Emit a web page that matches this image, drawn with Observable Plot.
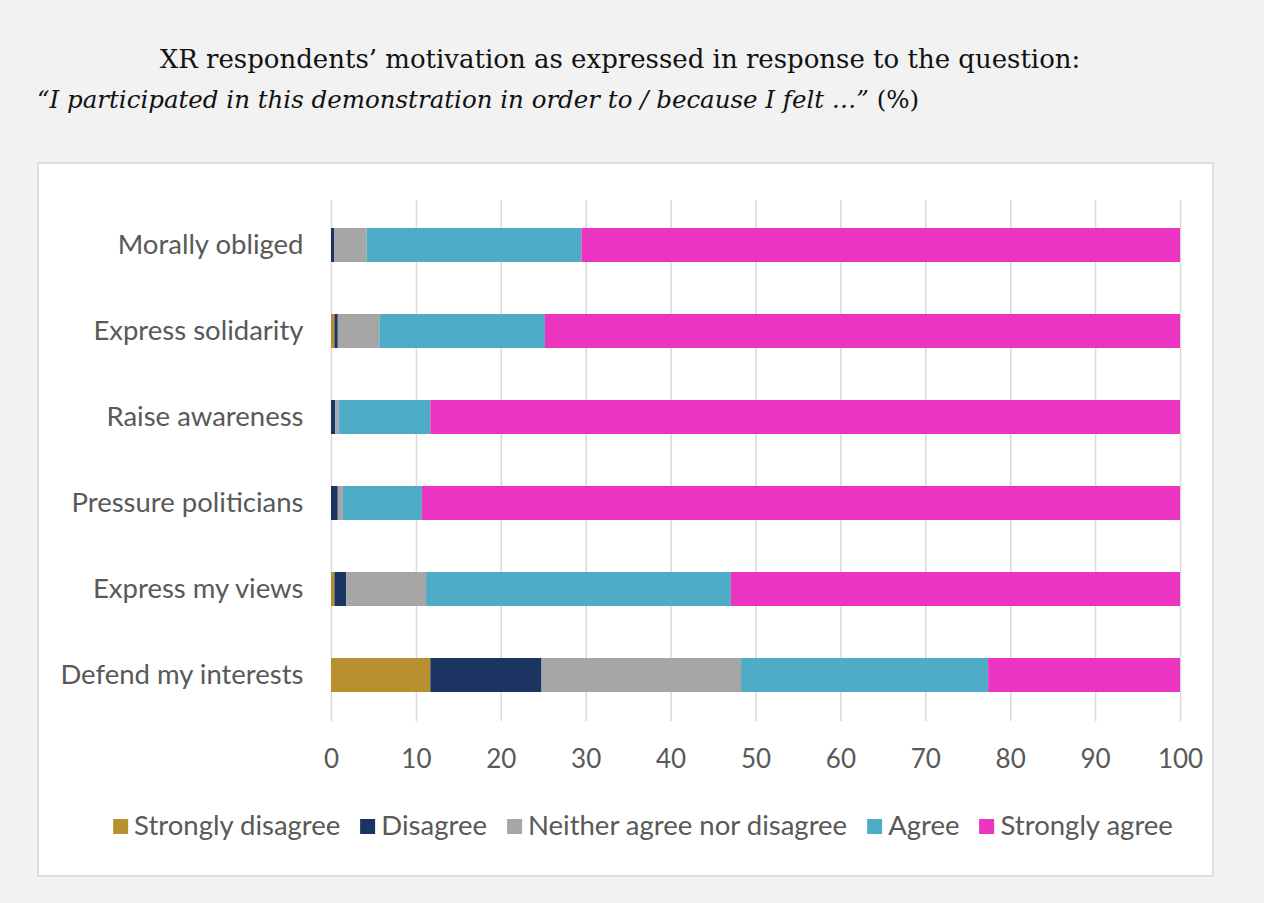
<!DOCTYPE html>
<html>
<head>
<meta charset="utf-8">
<script src="https://cdn.jsdelivr.net/npm/d3@7"></script>
<script src="https://cdn.jsdelivr.net/npm/@observablehq/plot@0.6"></script>
<style>
  html, body { margin: 0; padding: 0; }
  body { width: 1264px; height: 903px; background: #f2f2f2; position: relative; overflow: hidden; }
  #title { position: absolute; left: 0; width: 1240px; top: 44px; text-align: center;
    font-family: "DejaVu Serif", serif; font-size: 26px; color: #111; }
  #subtitle { position: absolute; left: 37px; top: 85px; font-family: "DejaVu Serif", serif; font-size: 24.5px; color: #111; }
  #panel { position: absolute; left: 37px; top: 162px; width: 1173px; height: 711px; background: #fff; border: 2px solid #dedede; }
  #chart { position: absolute; left: 38px; top: 163px; }
  #legend { position: absolute; top: 808px; left: 643px; transform: translateX(-50%); display: flex; gap: 20px;
    font-family: Lato, sans-serif; font-size: 27.5px; color: #595959; white-space: nowrap; }
  #legend .item { display: flex; align-items: center; gap: 6px; }
  #legend .sw { width: 15px; height: 15px; display: inline-block; margin-top: 3px; }
</style>
</head>
<body>
<div id="title">XR respondents’ motivation as expressed in response to the question:</div>
<div id="subtitle"><i>“I participated in this demonstration in order to / because I felt …”</i> (%)</div>
<div id="panel"></div>
<div id="chart"></div>
<div id="legend"></div>
<script>
const categories = ["Morally obliged", "Express solidarity", "Raise awareness", "Pressure politicians", "Express my views", "Defend my interests"];
const responses = ["Strongly disagree", "Disagree", "Neither agree nor disagree", "Agree", "Strongly agree"];
const colors = ["#b8902f", "#1c3461", "#a6a6a6", "#4eacc6", "#eb34c0"];
const stronglyDisagree = [0, 0.4, 0, 0, 0.4, 11.7];
const disagree = [0.4, 0.4, 0.5, 0.8, 1.4, 13.1];
const neither = [3.8, 4.9, 0.4, 0.6, 9.4, 23.5];
const agree = [25.3, 19.5, 10.8, 9.3, 35.9, 29.1];
const stronglyAgree = [70.5, 74.8, 88.3, 89.3, 52.9, 22.6];
const xTicks = [0, 10, 20, 30, 40, 50, 60, 70, 80, 90, 100];

const series = [stronglyDisagree, disagree, neither, agree, stronglyAgree];
const data = [];
categories.forEach((c, i) => {
  series.forEach((s, j) => data.push({category: c, response: responses[j], value: s[i]}));
});

const chart = Plot.plot({
  width: 1174,
  height: 620,
  marginTop: 37,
  marginBottom: 62,
  marginLeft: 293,
  marginRight: 32,
  style: {fontFamily: "Lato, sans-serif", fontSize: "26px", color: "#595959", background: "transparent"},
  x: {domain: [0, 100], ticks: xTicks, label: null},
  y: {domain: categories, paddingInner: 0.6, paddingOuter: 0.3, label: null},
  color: {domain: responses, range: colors},
  marks: [
    Plot.gridX(xTicks, {stroke: "#d9d9d9", strokeOpacity: 1, strokeWidth: 1.5}),
    Plot.barX(data, {x: "value", y: "category", fill: "response", order: responses}),
    Plot.axisX(xTicks, {tickSize: 0, tickPadding: 28, fontSize: 26, fill: "#595959", label: null}),
    Plot.axisY({tickSize: 0, tickPadding: 28, fontSize: 27.5, fill: "#595959", label: null})
  ]
});
document.getElementById("chart").appendChild(chart);

const legend = document.getElementById("legend");
responses.forEach((r, i) => {
  const item = document.createElement("span");
  item.className = "item";
  const sw = document.createElement("span");
  sw.className = "sw";
  sw.style.background = colors[i];
  item.appendChild(sw);
  item.appendChild(document.createTextNode(r));
  legend.appendChild(item);
});
</script>
</body>
</html>
